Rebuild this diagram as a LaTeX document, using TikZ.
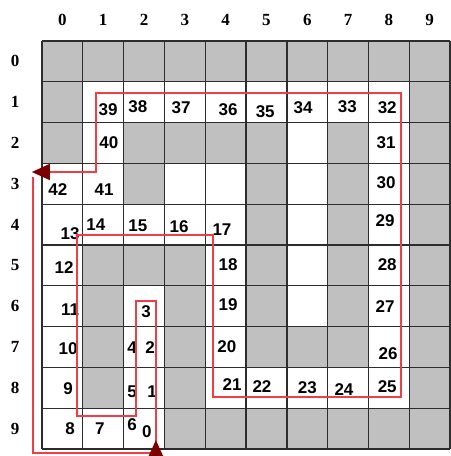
\documentclass[tikz,border=0pt]{standalone}
\usepackage{fontspec}
\setmainfont{Liberation Serif}
\setsansfont{Liberation Sans}
\usepackage{tikz}
\usetikzlibrary{arrows.meta, positioning}
\usepackage{xcolor}
\definecolor{wallgray}{RGB}{192,192,192}
\definecolor{gridline}{RGB}{45,45,45}
\definecolor{routered}{RGB}{242,60,70}
\definecolor{tipred}{RGB}{125,0,0}

\begin{document}
\begin{tikzpicture}[x=40.8pt,y=-40.8pt,
  num/.style={font=\sffamily\bfseries\fontsize{17}{17}\selectfont, inner sep=0pt},
  hdr/.style={font=\bfseries\fontsize{17}{17}\selectfont, inner sep=0pt},
  route/.style={routered, line width=1.5pt},
  tip/.style={-{Triangle[length=18pt,width=16pt,color=tipred]}}]
  \useasboundingbox (-1.03,-1.005) rectangle (10.02,10.17);
  % Labyrinth
  \fill[wallgray] (0,0) rectangle (10,10);
  \foreach \c/\r in {1/1,2/1,3/1,4/1,5/1,6/1,7/1,8/1,
                     1/2,6/2,8/2,
                     0/3,1/3,3/3,4/3,6/3,8/3,
                     0/4,1/4,2/4,3/4,4/4,6/4,8/4,
                     0/5,4/5,6/5,8/5,
                     0/6,2/6,4/6,6/6,8/6,
                     0/7,2/7,4/7,8/7,
                     0/8,2/8,4/8,5/8,6/8,7/8,8/8,
                     0/9,1/9,2/9}
    \fill[white] (\c,\r) rectangle ++(1,1);
  \foreach \i in {0,...,10} {
    \draw[gridline, line width=1.3pt] (\i,0) -- (\i,10);
    \draw[gridline, line width=1.3pt] (0,\i) -- (10,\i);
  }
  % Spalten und Zeilen
  \foreach \i in {0,...,9} {
    \node[hdr] (col\i) at (\i+0.5,-0.51) {\i};
    \node[hdr] (row\i) at (-0.66,\i+0.5) {\i};
  }
  % Schritte
  \foreach \n/\u/\v in {0/2.57/9.58, 1/2.70/8.60, 2/2.65/7.52, 3/2.55/6.64,
                        4/2.21/7.52, 5/2.21/8.60, 6/2.21/9.41, 7/1.42/9.49,
                        8/0.69/9.49, 9/0.64/8.53, 10/0.64/7.55, 11/0.69/6.59,
                        12/0.54/5.56, 13/0.69/4.71, 14/1.32/4.49, 15/2.35/4.53,
                        16/3.36/4.56, 17/4.41/4.63, 18/4.56/5.49, 19/4.56/6.45,
                        20/4.53/7.50, 21/4.66/8.43, 22/5.39/8.48, 23/6.50/8.50,
                        24/7.40/8.53, 25/8.46/8.48, 26/8.48/7.65, 27/8.41/6.50,
                        28/8.46/5.49, 29/8.41/4.39, 30/8.43/3.48, 31/8.43/2.48,
                        32/8.46/1.64, 33/7.48/1.62, 34/6.40/1.64, 35/5.47/1.74,
                        36/4.56/1.69, 37/3.41/1.64, 38/2.35/1.62, 39/1.62/1.69,
                        40/1.64/2.48, 41/1.52/3.65, 42/0.39/3.65}
    \node[num] (n\n) at (\u,\v) {\n};
  % Weg
  \coordinate (entry) at (2.79,10.22);
  \coordinate (start) at (2.79,9.78);
  \coordinate (finish) at (-0.25,3.21);
  \coordinate (back) at (-0.22,3.33);
  \draw[route] (start) |- (2.30,6.37) |- (0.86,9.19) |- (4.19,4.75)
    |- (8.80,8.73) |- (1.32,1.27) |- ([xshift=12pt]finish);
  \draw[route] (back) |- (2.79,10.10) -- (start);
  \draw[route, tip] ([xshift=13pt]finish) -- (finish);
  \draw[route, tip] (entry) -- (start);
\end{tikzpicture}
\end{document}
